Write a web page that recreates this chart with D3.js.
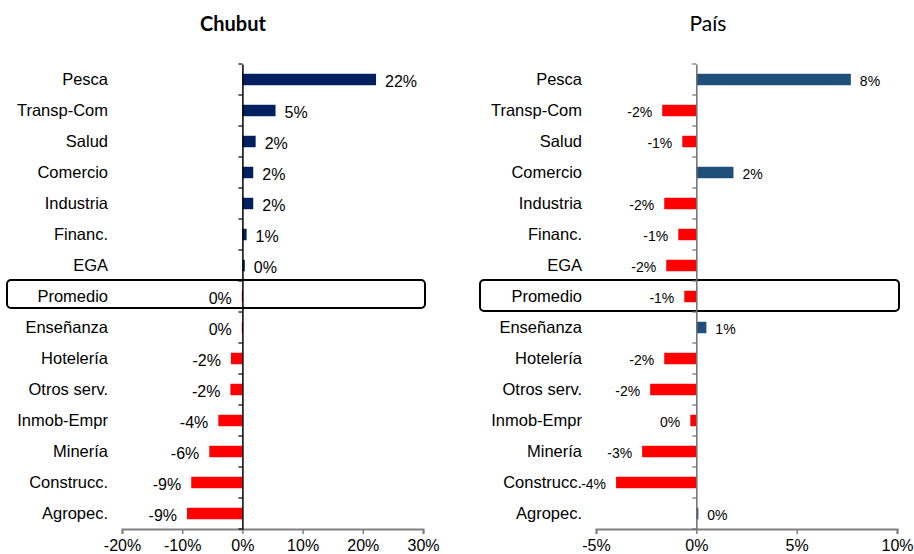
<!doctype html>
<meta charset='utf-8'>
<title>Chubut vs País</title>
<style type="text/css">
	body { margin:0; background:white; }
	svg { display:block; }
	text { font-family:"Liberation Sans", Arial, sans-serif; fill:#000; }
	.title { font-family:Lato, "Open Sans", sans-serif; }
</style>
<div id='container'></div>
<script src="https://cdnjs.cloudflare.com/ajax/libs/d3/7.8.5/d3.min.js" charset="utf-8"></script>
<script>

	var categories = ['Pesca','Transp-Com','Salud','Comercio','Industria','Financ.','EGA',
		'Promedio','Enseñanza','Hotelería','Otros serv.','Inmob-Empr','Minería','Construcc.','Agropec.']

	// variación (%) por sector
	var chubut = [22.2, 5.5, 2.2, 1.8, 1.8, 0.7, 0.4, -0.1, -0.1, -1.9, -2.0, -4.0, -5.5, -8.5, -9.2]
	var chubutLabels = ['22%','5%','2%','2%','2%','1%','0%','0%','0%','-2%','-2%','-4%','-6%','-9%','-9%']
	var chubutTicks = [-20, -10, 0, 10, 20, 30]

	var pais = [7.7, -1.7, -0.7, 1.85, -1.6, -0.9, -1.5, -0.6, 0.5, -1.6, -2.3, -0.3, -2.7, -4.0, 0.1]
	var paisLabels = ['8%','-2%','-1%','2%','-2%','-1%','-2%','-1%','1%','-2%','-2%','0%','-3%','-4%','0%']
	var paisTicks = [-5, 0, 5, 10]

	var svg = d3.select('#container').append('svg')
		.attr('width', 914).attr('height', 554)

	function panel(spec) {
		var g = svg.append('g')
		var x = d3.scaleLinear().domain(d3.extent(spec.ticks)).range([spec.x0, spec.x1])
		var y = d3.scaleBand().domain(categories).range([64, 529])
		var bh = y.bandwidth() * 0.37

		g.append('text').attr('class','title')
			.attr('x', spec.titleX).attr('y', 31)
			.attr('text-anchor','middle')
			.style('font-size', spec.titleSize)
			.style('font-weight', spec.bold ? 'bold' : 'normal')
			.text(spec.title)

		// recuadro del promedio
		g.append('rect')
			.attr('x', spec.boxX0).attr('y', 280)
			.attr('width', spec.boxX1 - spec.boxX0).attr('height', spec.boxH)
			.attr('rx', 4)
			.style('fill','none').style('stroke','#000').style('stroke-width', 2)

		g.selectAll('.cat').data(categories).enter().append('text')
			.attr('x', spec.catX)
			.attr('y', function(d){ return y(d) + y.bandwidth()/2 })
			.attr('dy', '0.35em')
			.attr('text-anchor','end')
			.style('font-size','16.5px')
			.text(function(d){ return d })

		g.selectAll('.bar').data(spec.values).enter().append('rect')
			.attr('x', function(d){ return x(Math.min(0, d)) })
			.attr('y', function(d,i){ return y(categories[i]) + y.bandwidth()/2 - bh/2 })
			.attr('width', function(d){ return Math.max(1, Math.abs(x(d) - x(0))) })
			.attr('height', bh)
			.style('fill', function(d){ return d >= 0 ? spec.pos : '#FF0000' })

		g.selectAll('.lab').data(spec.values).enter().append('text')
			.attr('x', function(d){ return d >= 0 ? x(d) + 9 : x(d) - 10 })
			.attr('y', function(d,i){ return y(categories[i]) + y.bandwidth()/2 + 2 })
			.attr('dy', '0.35em')
			.attr('text-anchor', function(d){ return d >= 0 ? 'start' : 'end' })
			.style('font-size', spec.labSize)
			.text(function(d,i){ return spec.labels[i] })

		// eje x
		var xAxis = g.append('g')
			.attr('transform', 'translate(0,529)')
			.call(d3.axisBottom(x).tickValues(spec.ticks).tickSize(5)
				.tickFormat(function(d){ return d + '%' }))
		xAxis.select('.domain').style('stroke','#808080').style('stroke-width', 2)
		xAxis.selectAll('.tick line').style('stroke','#808080').style('stroke-width', 1.5)
		xAxis.selectAll('.tick text')
			.attr('y', 11)
			.style('font-size','16px')
			.style('font-family','"Liberation Sans", Arial, sans-serif')
			.style('fill','#000')

		// eje y en el cero
		var yAxis = g.append('g')
			.attr('transform', 'translate(' + x(0) + ',0)')
			.call(d3.axisLeft(y).tickSizeInner(0).tickSizeOuter(0).tickFormat(''))
		yAxis.select('.domain').style('stroke', spec.yColor).style('stroke-width', 1.5)
		yAxis.selectAll('.tick').remove()
		var marks = categories.map(function(d){ return y(d) }).concat([y.range()[1]])
		yAxis.selectAll('.mk').data(marks).enter().append('line')
			.attr('x1', -4).attr('x2', 0)
			.attr('y1', function(d){ return d }).attr('y2', function(d){ return d })
			.style('stroke', spec.yColor).style('stroke-width', 1.2)
	}

	panel({
		title:'Chubut', titleX:233, bold:true, titleSize:'20px',
		values:chubut, labels:chubutLabels, ticks:chubutTicks,
		x0:122, x1:423, catX:108,
		boxX0:7, boxX1:425, boxH:28,
		pos:'#002060', yColor:'#000', labSize:'16px'
	})

	panel({
		title:'País', titleX:708, bold:false, titleSize:'21px',
		values:pais, labels:paisLabels, ticks:paisTicks,
		x0:596, x1:897, catX:582,
		boxX0:480, boxX1:899, boxH:31,
		pos:'#1F4E79', yColor:'#6f6f6f', labSize:'14px'
	})

</script>
